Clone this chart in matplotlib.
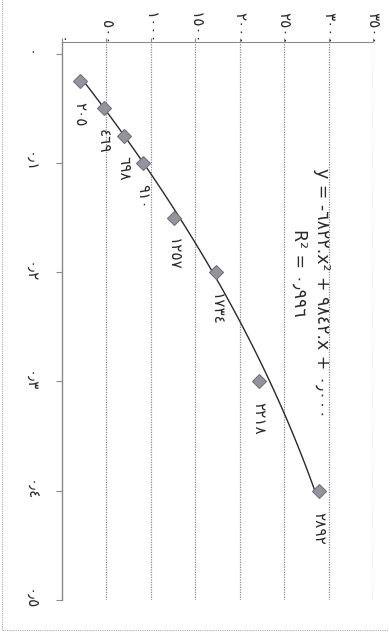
import matplotlib.pyplot as plt
import numpy as np
from matplotlib.patches import Rectangle

# data (x = concentration, value = measured reading)
conc = [0.025, 0.05, 0.075, 0.1, 0.15, 0.2, 0.3, 0.4]
values = [205, 469, 698, 910, 1257, 1734, 2218, 2892]
value_labels = ["٢٠٥", "٤٦٩", "٦٩٨", "٩١٠", "١٢٥٧", "١٧٣٤", "٢٢١٨", "٢٨٩٢"]

value_ticks = [0, 500, 1000, 1500, 2000, 2500, 3000, 3500]
value_tick_labels = ["٠", "٥٠٠", "١٠٠٠", "١٥٠٠", "٢٠٠٠", "٢٥٠٠", "٣٠٠٠", "٣٥٠٠"]
conc_ticks = [0, 0.1, 0.2, 0.3, 0.4, 0.5]
conc_tick_labels = ["٠", "٠٫١", "٠٫٢", "٠٫٣", "٠٫٤", "٠٫٥"]

# trendline shown on the chart
coef_a, coef_b, coef_c = -6822, 9842, 0.0
equation = "y = -٦٨٢٢.x² + ٩٨٤٢.x + ٠٫٠٠٠"
r2_text = "R² = ٠٫٩٩٦"

plt.rcParams['font.family'] = ['DejaVu Sans']

fig = plt.figure(figsize=(3.89, 6.34), dpi=100)
ax = fig.add_axes([62 / 389, 34 / 634, 311 / 389, 558 / 634])

# the whole chart is printed turned a quarter turn clockwise
grid = "#8c8c8c"
txt = "#2a2a2a"
for v in value_ticks[1:]:
    ax.axvline(v, color=grid, lw=0.9, ls=(0, (1, 1)), zorder=1)

xs = np.linspace(conc[0], conc[-1], 100)
ax.plot(coef_a * xs**2 + coef_b * xs + coef_c, xs, color="#2a2a2a", lw=1.0, zorder=2)
ax.plot(values, conc, ls="none", marker="D", ms=7.5, mfc="#94949e",
        mec="#74747e", mew=0.8, zorder=3)

for v, c, lab in zip(values, conc, value_labels):
    ax.annotate(lab, (v, c), xytext=(0, -15), textcoords="offset points",
                rotation=-90, ha="center", va="top", fontsize=11, color=txt)

ax.text(2925, 0.105, equation, rotation=-90, ha="center", va="top",
        fontsize=12.5, color=txt)
ax.text(2670, 0.160, r2_text, rotation=-90, ha="center", va="top",
        fontsize=12.5, color=txt)

ax.set_xlim(0, 3500)
ax.set_ylim(0.5, -0.0107)

ax.xaxis.tick_top()
ax.set_xticks(value_ticks)
ax.set_xticklabels(value_tick_labels)
ax.set_yticks(conc_ticks)
ax.set_yticklabels(conc_tick_labels)
ax.tick_params(axis="x", labelrotation=-90, length=3, color=grid, labelsize=11,
               labelcolor=txt, pad=-5)
ax.tick_params(axis="y", labelrotation=-90, length=4, color=grid, labelsize=11,
               labelcolor=txt, pad=14)
for lab in ax.get_yticklabels():
    lab.set_va("center")

ax.spines["left"].set_color("#888888")
ax.spines["left"].set_linewidth(1.0)
ax.spines["top"].set_color(grid)
ax.spines["top"].set_linestyle((0, (1, 1)))
ax.spines["right"].set_visible(False)
ax.spines["bottom"].set_visible(False)

# outer chart border
fig.patches.append(Rectangle((2 / 389, 4 / 634), 1.2, 1.2, transform=fig.transFigure,
                             fill=False, ec="#aaaaaa", lw=0.8, ls=(0, (1, 1))))

plt.savefig("out.png", dpi=100)
